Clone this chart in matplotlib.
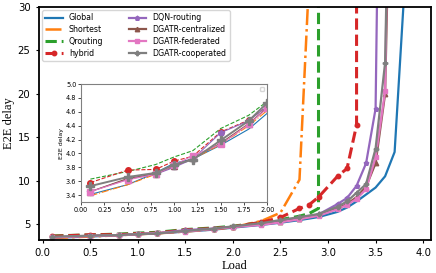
import matplotlib
matplotlib.use("Agg")
import matplotlib.pyplot as plt

# load / delay values
global_load = [0.1, 0.5, 0.8, 1.0, 1.2, 1.5, 1.8, 2.0, 2.3, 2.5, 2.7, 2.9, 3.1, 3.2, 3.3, 3.4, 3.5, 3.6, 3.7, 3.8]
global_delay = [3.41, 3.55, 3.72, 3.86, 3.92, 4.12, 4.35, 4.58, 4.9, 5.15, 5.45, 5.8, 6.4, 6.9, 7.6, 8.4, 9.2, 10.5, 13.3, 31.5]

shortest_load = [0.1, 0.5, 0.8, 1.0, 1.2, 1.5, 1.8, 2.0, 2.3, 2.5, 2.7, 2.8]
shortest_delay = [3.39, 3.55, 3.70, 3.82, 3.92, 4.13, 4.40, 4.62, 5.35, 6.3, 10.1, 33]

qrouting_load = [0.1, 0.5, 0.8, 1.0, 1.2, 1.5, 1.8, 2.0, 2.3, 2.5, 2.7, 2.8, 2.9, 2.9]
qrouting_delay = [3.63, 3.74, 3.84, 3.95, 4.04, 4.36, 4.55, 4.75, 5.15, 5.5, 5.9, 6.2, 6.8, 35]

hybrid_load = [0.1, 0.5, 0.8, 1.0, 1.2, 1.5, 1.8, 2.0, 2.3, 2.5, 2.7, 2.8, 2.9, 3.1, 3.2, 3.3, 3.3]
hybrid_delay = [3.58, 3.76, 3.77, 3.89, 3.96, 4.31, 4.48, 4.68, 5.2, 5.75, 6.8, 7.2, 8.1, 10.5, 11.4, 16.4, 35]

dqn_load = [0.1, 0.5, 0.8, 1.0, 1.2, 1.5, 1.8, 2.0, 2.3, 2.5, 2.7, 2.9, 3.1, 3.2, 3.3, 3.4, 3.5, 3.52]
dqn_delay = [3.45, 3.63, 3.70, 3.80, 3.92, 4.30, 4.47, 4.68, 4.95, 5.3, 5.7, 6.1, 7.3, 8.0, 9.4, 12.0, 18.3, 35]

dgatr_load = [0.1, 0.5, 0.8, 1.0, 1.2, 1.5, 1.8, 2.0, 2.3, 2.5, 2.7, 2.9, 3.1, 3.2, 3.3, 3.4, 3.5, 3.6]
centralized_load = dgatr_load + [3.63]
centralized_delay = [3.45, 3.64, 3.71, 3.82, 3.93, 4.15, 4.43, 4.66, 4.95, 5.25, 5.6, 6.0, 6.8, 7.3, 8.1, 9.3, 12.0, 20.0, 35]
federated_load = dgatr_load + [3.62]
federated_delay = [3.45, 3.62, 3.70, 3.83, 3.97, 4.13, 4.42, 4.65, 4.9, 5.2, 5.55, 5.95, 6.7, 7.2, 7.9, 9.0, 12.7, 20.3, 35]
cooperated_load = dgatr_load + [3.62]
cooperated_delay = [3.53, 3.66, 3.72, 3.84, 3.91, 4.19, 4.47, 4.73, 5.1, 5.46, 5.8, 6.15, 7.0, 7.6, 8.6, 9.6, 13.7, 23.6, 35]

series = [
    ("Global", global_load, global_delay, "tab:blue", "-", None),
    ("Shortest", shortest_load, shortest_delay, "tab:orange", "-.", None),
    ("Qrouting", qrouting_load, qrouting_delay, "tab:green", "--", None),
    ("hybrid", hybrid_load, hybrid_delay, "tab:red", "--", "o"),
    ("DQN-routing", dqn_load, dqn_delay, "tab:purple", "-", "p"),
    ("DGATR-centralized", centralized_load, centralized_delay, "tab:brown", "-", "^"),
    ("DGATR-federated", federated_load, federated_delay, "tab:pink", "-", "s"),
    ("DGATR-cooperated", cooperated_load, cooperated_delay, "tab:gray", "-", "P"),
]

main_lw = {"-": 1.6, "-.": 1.8, "--": 2.2}

fig = plt.figure(figsize=(4.36, 2.73), dpi=100)
ax = fig.add_axes([0.089, 0.121, 0.899, 0.853])

for name, x, y, color, ls, mk in series:
    ax.plot(x, y, color=color, linestyle=ls, marker=mk, markersize=3.2,
            linewidth=main_lw[ls], label=name)

ax.set_xlim(-0.04, 4.08)
ax.set_ylim(3.16, 30)
ax.set_xticks([0.0, 0.5, 1.0, 1.5, 2.0, 2.5, 3.0, 3.5, 4.0])
ax.set_yticks([5, 10, 15, 20, 25, 30])
ax.tick_params(labelsize=7.3, length=2.5, width=0.8)
for sp in ax.spines.values():
    sp.set_linewidth(1.3)
ax.set_xlabel("Load", family="Liberation Serif", fontsize=9, labelpad=1)
ax.set_ylabel("E2E delay", family="Liberation Serif", fontsize=9, labelpad=2)
ax.legend(loc="upper left", ncol=2, fontsize=5.7, handlelength=2.2,
          columnspacing=3.2, labelspacing=0.35, borderaxespad=0.4)

# zoomed inset
axin = fig.add_axes([0.186, 0.260, 0.427, 0.432])
for name, x, y, color, ls, mk in series:
    big = name == "DGATR-cooperated"
    axin.plot(x, y, color=color, linestyle=ls, marker=mk,
              markersize=5.5 if big else 4,
              linewidth=1.4 if big else 0.8)
axin.set_xlim(0, 2.0)
axin.set_ylim(3.3, 5.0)
axin.set_xticks([0.0, 0.25, 0.5, 0.75, 1.0, 1.25, 1.5, 1.75, 2.0])
axin.set_yticks([3.4, 3.6, 3.8, 4.0, 4.2, 4.4, 4.6, 4.8, 5.0])
axin.tick_params(labelsize=4.7, length=2, width=0.5, pad=1.5)
for sp in axin.spines.values():
    sp.set_color("0.5")
    sp.set_linewidth(0.8)
axin.set_ylabel("E2E delay", fontsize=4.5, labelpad=1.5)
axin.legend(handles=[], loc="upper right", fontsize=4)

fig.savefig("out.png", dpi=100)
